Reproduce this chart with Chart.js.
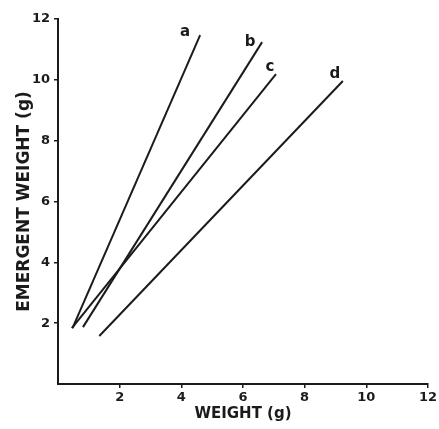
<!DOCTYPE html>
<html>
<head>
<meta charset="utf-8">
<script src="https://cdn.jsdelivr.net/npm/chart.js@4"></script>
<style>
  html, body { margin: 0; padding: 0; background: #fff; }
  #wrap { width: 439px; height: 429px; }
</style>
</head>
<body>
<div id="wrap"><canvas id="lineChart" width="439" height="429"></canvas></div>
<script>
// series: start and end of each fitted line
const seriesNames = ["a", "b", "c", "d"];
const weightX = [
  [0.47, 4.61],
  [0.81, 6.62],
  [0.45, 7.07],
  [1.34, 9.24],
];
const emergentY = [
  [1.84, 11.47],
  [1.87, 11.24],
  [1.84, 10.19],
  [1.58, 9.96],
];
const tickValues = [0, 2, 4, 6, 8, 10, 12];

// pixel nudges for the letters next to each line end
const labelNudge = [[-15, -3], [-12, 0], [-6, -7], [-8, -7]];

const ink = "#1b1b1b";
const font = "'DejaVu Sans', sans-serif";

const datasets = seriesNames.map((name, i) => ({
  label: name,
  data: weightX[i].map((x, j) => ({ x: x, y: emergentY[i][j] })),
  showLine: true,
  borderColor: ink,
  borderWidth: 2,
  pointRadius: 0,
  fill: false,
}));

const endLabels = {
  id: "endLabels",
  afterDatasetsDraw(chart) {
    const ctx = chart.ctx;
    ctx.save();
    ctx.fillStyle = ink;
    ctx.font = "bold 15px " + font;
    ctx.textAlign = "center";
    ctx.textBaseline = "middle";
    chart.data.datasets.forEach((ds, i) => {
      const last = ds.data[ds.data.length - 1];
      const px = chart.scales.x.getPixelForValue(last.x) + labelNudge[i][0];
      const py = chart.scales.y.getPixelForValue(last.y) + labelNudge[i][1];
      ctx.fillText(ds.label, px, py);
    });
    ctx.restore();
  },
};

const hideZero = (c) => (c.tick && c.tick.value === 0 ? "rgba(0,0,0,0)" : ink);

var myChart = new Chart(document.getElementById("lineChart").getContext("2d"), {
  type: "scatter",
  data: { datasets: datasets },
  options: {
    responsive: false,
    animation: false,
    layout: { padding: { top: 19, right: 11, left: 0, bottom: 0 } },
    plugins: { legend: { display: false }, tooltip: { enabled: false } },
    scales: {
      x: {
        type: "linear",
        min: 0,
        max: 12,
        afterBuildTicks: (s) => { s.ticks = tickValues.map((v) => ({ value: v })); },
        afterFit: (s) => { s.height = 45; },
        border: { color: ink, width: 2 },
        grid: { drawOnChartArea: false, tickLength: 4, color: hideZero, lineWidth: 1.5 },
        ticks: {
          color: ink,
          padding: 2,
          font: { family: font, size: 13, weight: "bold" },
          callback: (v) => (v === 0 ? "" : String(v)),
        },
        title: {
          display: true,
          text: "WEIGHT (g)",
          color: ink,
          padding: { top: 0, bottom: 6 },
          font: { family: font, size: 15, weight: "bold" },
        },
      },
      y: {
        type: "linear",
        min: 0,
        max: 12,
        afterBuildTicks: (s) => { s.ticks = tickValues.map((v) => ({ value: v })); },
        afterFit: (s) => { s.width = 58; },
        border: { color: ink, width: 2 },
        grid: { drawOnChartArea: false, tickLength: 4, color: hideZero, lineWidth: 1.5 },
        ticks: {
          color: ink,
          padding: 4,
          font: { family: font, size: 13, weight: "bold" },
          callback: (v) => (v === 0 ? "" : String(v)),
        },
        title: {
          display: true,
          text: "EMERGENT WEIGHT (g)",
          color: ink,
          padding: { top: 14, bottom: 0 },
          font: { family: font, size: 17, weight: "bold" },
        },
      },
    },
  },
  plugins: [endLabels],
});
</script>
</body>
</html>
